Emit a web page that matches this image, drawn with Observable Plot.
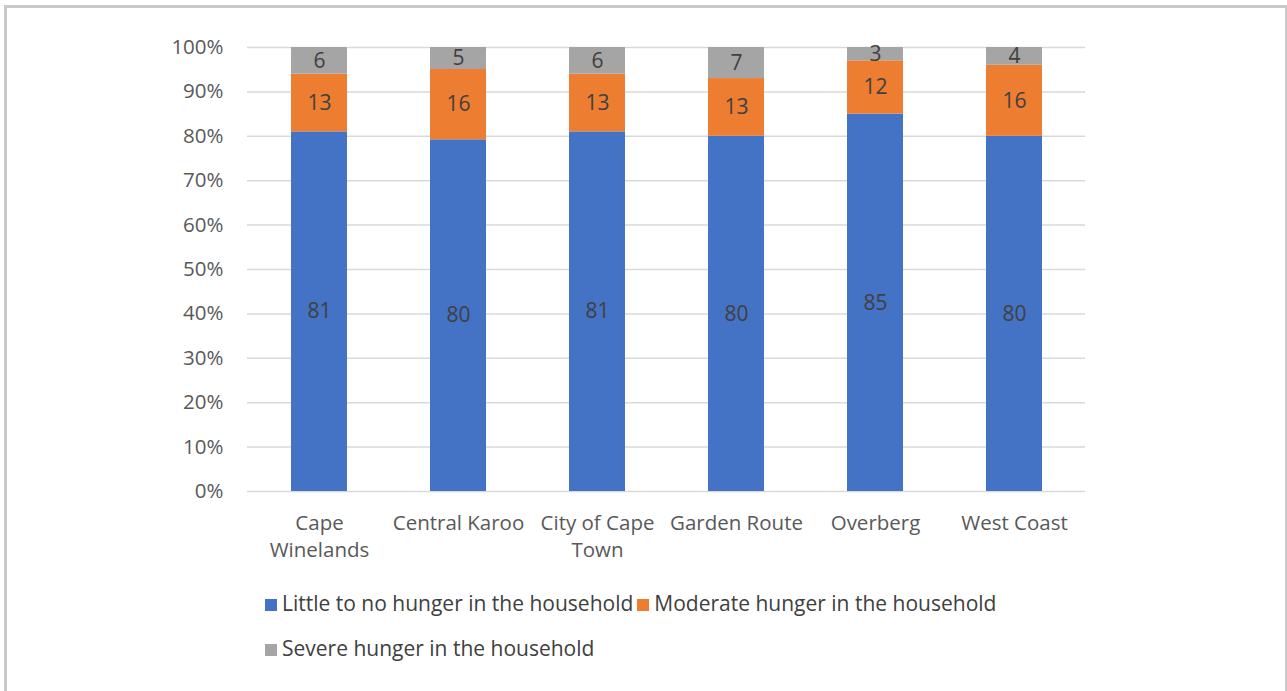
<!DOCTYPE html>
<html>
<head>
<meta charset="utf-8">
<script src="https://cdn.jsdelivr.net/npm/d3@7"></script>
<script src="https://cdn.jsdelivr.net/npm/@observablehq/plot@0.6"></script>
<style>
  html, body { margin: 0; padding: 0; background: #fff; }
  body { width: 1287px; height: 691px; overflow: hidden; position: relative; font-family: "Open Sans", Lato, sans-serif; }
  #frame { position: absolute; left: 4px; top: 5px; width: 1278px; height: 700px; border: 3px solid #c9c9c9; border-bottom: none; }
  #chart { position: absolute; left: 0; top: 0; }
  #legend { position: absolute; left: 265px; top: 588px; font-size: 21px; color: #404040; }
  .row { height: 45px; line-height: 31px; white-space: nowrap; }
  .item { display: inline-block; margin-right: 4px; }
  .sw { display: inline-block; width: 12px; height: 12px; margin-right: 5px; vertical-align: 0px; }
</style>
</head>
<body>
<div id="frame"></div>
<div id="chart"></div>
<div id="legend"></div>
<script>
const regions = ["Cape Winelands", "Central Karoo", "City of Cape Town", "Garden Route", "Overberg", "West Coast"];
const regionLabels = ["Cape\nWinelands", "Central Karoo", "City of Cape\nTown", "Garden Route", "Overberg", "West Coast"];
const series = ["Little to no hunger in the household", "Moderate hunger in the household", "Severe hunger in the household"];
const colors = ["#4472C4", "#ED7D31", "#A5A5A5"];
const little = [81, 80, 81, 80, 85, 80];
const moderate = [13, 16, 13, 13, 12, 16];
const severe = [6, 5, 6, 7, 3, 4];
const yTicks = [0, 0.1, 0.2, 0.3, 0.4, 0.5, 0.6, 0.7, 0.8, 0.9, 1];

const valuesBySeries = [little, moderate, severe];
const data = [];
series.forEach((s, si) => regions.forEach((r, ri) => data.push({region: r, series: s, value: valuesBySeries[si][ri]})));

const labelMap = new Map(regions.map((r, i) => [r, regionLabels[i]]));
const stackOpts = {x: "region", y: "value", z: "series", offset: "normalize", order: series};

const chart = Plot.plot({
  width: 1287,
  height: 570,
  marginLeft: 247,
  marginRight: 202,
  marginTop: 47,
  marginBottom: 79,
  style: {fontFamily: "'Open Sans', Lato, sans-serif", fontSize: "20px", color: "#595959", background: "transparent"},
  x: {domain: regions, paddingInner: 0.6, paddingOuter: 0.3, label: null},
  y: {domain: [0, 1], label: null},
  color: {domain: series, range: colors},
  marks: [
    Plot.gridY(yTicks, {stroke: "#d9d9d9", strokeOpacity: 1, strokeWidth: 1.5}),
    Plot.axisY(yTicks, {tickFormat: d3.format(".0%"), tickSize: 0, tickPadding: 24, fontSize: 20.5, fill: "#595959"}),
    Plot.axisX({tickSize: 0, tickPadding: 19, fontSize: 20.5, fill: "#595959", lineHeight: 1.33, tickFormat: d => labelMap.get(d), textAnchor: "middle", lineAnchor: "top"}),
    Plot.barY(data, Plot.stackY({...stackOpts, fill: "series"})),
    Plot.text(data, Plot.stackY({...stackOpts, text: d => String(d.value), fill: "#404040", fontSize: 21}))
  ]
});
document.getElementById("chart").appendChild(chart);

const legend = document.getElementById("legend");
const rows = [[0, 1], [2]];
rows.forEach(idx => {
  const row = document.createElement("div");
  row.className = "row";
  idx.forEach(i => {
    const it = document.createElement("span");
    it.className = "item";
    it.innerHTML = `<span class="sw" style="background:${colors[i]}"></span>${series[i]}`;
    row.appendChild(it);
  });
  legend.appendChild(row);
});
</script>
</body>
</html>
